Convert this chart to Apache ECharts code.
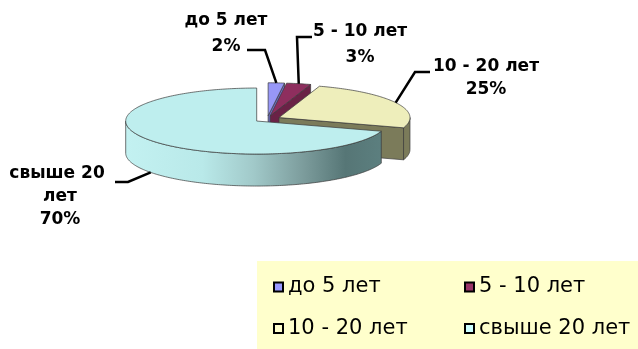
<!DOCTYPE html>
<html>
<head>
<meta charset="utf-8">
<script src="https://cdn.jsdelivr.net/npm/echarts@6/dist/echarts.min.js"></script>
<style>
  html, body { margin: 0; padding: 0; background: #fff; }
  #chart { width: 638px; height: 349px; }
</style>
</head>
<body>
<div id="chart"></div>
<script>
// Распределение по стажу
const categories = ['до 5 лет', '5 - 10 лет', '10 - 20 лет', 'свыше 20 лет'];
const values = [2, 3, 25, 70];

// Colours: top faces, side walls, legend swatches
const topColors = ['#9797F7', '#8E2E5E', '#EEEEBB', '#BEEEEE'];
const wallColors = ['#6F6FC4', '#6A2246', '#7B7B5A', null];
const cyanWallStops = [
  [0, '#C3F1F1'], [0.3, '#B9E9E9'], [0.5, '#A1C9C9'],
  [0.7, '#7B9B9B'], [0.86, '#567676'], [1, '#5C7F7F']
];
const legendColors = ['#9999FF', '#993366', '#FFFFCC', '#CCFFFF'];

// Pie geometry (pixels)
const CENTER = [267.3, 119.1];
const RX = 131, RY = 33, DEPTH = 32, EXPLODE = 0.1;

// Label placement: text block centre, line height, wrap width, leader start / elbow, drop onto wall
const labelLayout = [
  { x: 226, y: 34, lh: 26, w: 140, lead: [[247, 50], [265, 50]], drop: 0 },
  { x: 360, y: 45, lh: 26, w: 140, lead: [[312, 37], [297, 37]], drop: 0 },
  { x: 486, y: 78, lh: 23, w: 140, lead: [[430, 72], [415, 72]], drop: 0 },
  { x: 60, y: 197, lh: 23, w: 122, lead: [[115, 182], [128, 182]], drop: 1 }
];

const total = values.reduce((a, b) => a + b, 0);
const startAngles = [];
(function () {
  let acc = 0;
  values.forEach(v => { startAngles.push(acc / total * 360); acc += v; });
})();

const rad = d => d * Math.PI / 180;

function slice(i) {
  const a0 = startAngles[i];
  const a1 = a0 + values[i] / total * 360;
  const mid = (a0 + a1) / 2;
  const cx = CENTER[0] + EXPLODE * RX * Math.sin(rad(mid));
  const cy = CENTER[1] - EXPLODE * RY * Math.cos(rad(mid));
  const P = (a, dy) => [cx + RX * Math.sin(rad(a)), cy - RY * Math.cos(rad(a)) + (dy || 0)];
  const arc = (s, e, dy) => {
    const pts = [];
    const n = Math.max(2, Math.ceil(Math.abs(e - s)));
    for (let k = 0; k <= n; k++) pts.push(P(s + (e - s) * k / n, dy));
    return pts;
  };
  const edge = { stroke: '#3a3a3a', lineWidth: 0.7 };
  const children = [];

  // radial walls that face the viewer
  [[a0, a0 - 90], [a1, a1 + 90]].forEach(([a, n]) => {
    if (Math.cos(rad(n)) < -0.01) {
      const p = P(a);
      children.push({
        type: 'polygon',
        shape: { points: [[cx, cy], p, [p[0], p[1] + DEPTH], [cx, cy + DEPTH]] },
        style: Object.assign({ fill: wallColors[i] || '#6E9090' }, edge)
      });
    }
  });

  // outer curved wall on the front half
  const lo = Math.max(a0, 90), hi = Math.min(a1, 270);
  if (hi > lo) {
    const topArc = arc(lo, hi, 0);
    const botArc = arc(hi, lo, DEPTH);
    const pts = topArc.concat(botArc);
    let fill = wallColors[i];
    if (!fill) {
      const xs = pts.map(p => p[0]);
      fill = new echarts.graphic.LinearGradient(
        Math.min.apply(null, xs), 0, Math.max.apply(null, xs), 0,
        cyanWallStops.map(s => ({ offset: s[0], color: s[1] })), true);
    }
    children.push({
      type: 'polygon',
      shape: { points: pts },
      style: Object.assign({ fill: fill }, edge)
    });
  }

  // top face
  children.push({
    type: 'polygon',
    shape: { points: [[cx, cy]].concat(arc(a0, a1, 0)) },
    style: Object.assign({ fill: topColors[i] }, edge)
  });

  // leader line and label
  const L = labelLayout[i];
  const anchor = P(mid, L.drop * DEPTH);
  children.push({
    type: 'polyline',
    shape: { points: L.lead.concat([anchor]) },
    style: { stroke: '#000', lineWidth: 2.5, fill: null }
  });
  children.push({
    type: 'text',
    x: L.x, y: L.y,
    style: {
      text: categories[i] + '\n' + Math.round(values[i] / total * 100) + '%',
      width: L.w, overflow: 'break',
      align: 'center', verticalAlign: 'middle',
      lineHeight: L.lh,
      font: 'bold 17px "DejaVu Sans"',
      fill: '#000'
    }
  });

  return { type: 'group', children: children };
}

const legendText = { fontFamily: 'DejaVu Sans', fontSize: 21, color: '#000', lineHeight: 24 };
const legendItem = i => ({
  name: categories[i],
  itemStyle: { color: legendColors[i], borderColor: '#000', borderWidth: 2 }
});
const legendBase = {
  orient: 'vertical', top: 270, itemGap: 17.5, itemWidth: 9, itemHeight: 9,
  icon: 'rect', selectedMode: false, textStyle: legendText
};

const chart = echarts.init(document.getElementById('chart'));
chart.setOption({
  animation: false,
  backgroundColor: '#ffffff',
  graphic: [{
    type: 'rect', left: 257, top: 261, z: -10,
    shape: { width: 381, height: 88 },
    style: { fill: '#FFFFCC' }
  }],
  legend: [
    Object.assign({ left: 268, data: [legendItem(0), legendItem(2)] }, legendBase),
    Object.assign({ left: 459, data: [legendItem(1), legendItem(3)] }, legendBase)
  ],
  series: categories.map((name, i) => ({
    type: 'custom',
    name: name,
    coordinateSystem: 'none',
    silent: true,
    itemStyle: { color: legendColors[i] },
    data: [[values[i]]],
    renderItem: () => slice(i)
  }))
});
</script>
</body>
</html>
